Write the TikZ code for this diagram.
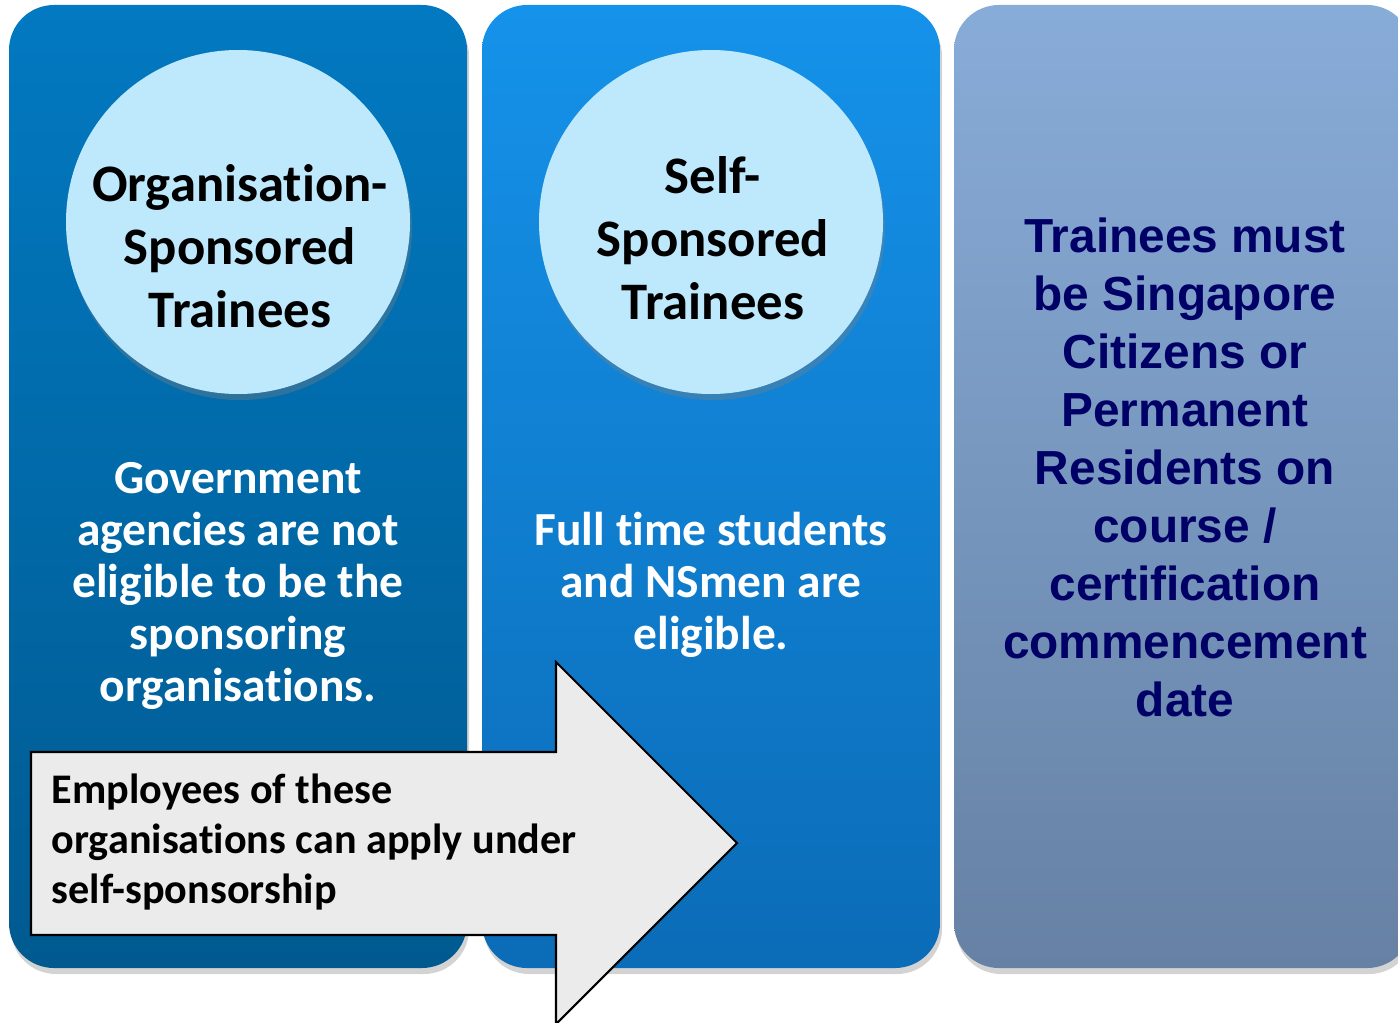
\documentclass[tikz,border=0pt]{standalone}
\usepackage{fontspec}
\setmainfont{Carlito}[Ligatures={NoCommon,NoContextual}, Contextuals=NoAlternate]
\newfontfamily\arialfont{Liberation Sans}
\usetikzlibrary{shadows}
\definecolor{OrgTop}{HTML}{0279C1}
\definecolor{OrgBot}{HTML}{005A90}
\definecolor{SelfTop}{HTML}{1592EA}
\definecolor{SelfBot}{HTML}{0B6CB7}
\definecolor{RuleTop}{HTML}{88ACD8}
\definecolor{RuleBot}{HTML}{6681A4}
\definecolor{Bubble}{HTML}{BEE9FC}
\definecolor{Navy}{HTML}{000066}
\definecolor{Note}{HTML}{EBEBEB}

\tikzset{
  panel/.style={rounded corners=0.45cm, minimum width=4.58cm, minimum height=9.63cm,
    inner sep=0pt, drop shadow={shadow xshift=0.2mm, shadow yshift=-0.6mm, opacity=0.35}},
  bubble/.style={circle, fill=Bubble, minimum size=3.44cm, inner sep=0pt,
    drop shadow={shadow xshift=0.2mm, shadow yshift=-0.6mm, opacity=0.35}},
  bubbletext/.style={align=center, inner sep=0pt, font=\bfseries\fontsize{15}{17.9}\selectfont},
  paneltext/.style={align=center, inner sep=0pt, text=white, font=\bfseries\fontsize{13.5}{14.8}\selectfont},
}

\begin{document}
\begin{tikzpicture}
    \useasboundingbox (0,0) rectangle (13.98,-10.22);
    \clip (0,0) rectangle (13.98,-10.22);

    \node at (2.38,-4.865) (Org) [panel, top color=OrgTop, bottom color=OrgBot] {};
    \node at (7.11,-4.865) (Self) [panel, top color=SelfTop, bottom color=SelfBot] {};
    \node at (11.83,-4.865) (Rule) [panel, top color=RuleTop, bottom color=RuleBot] {};

    \node at (2.38,-2.22) (OrgC) [bubble] {};
    \node at (7.11,-2.22) (SelfC) [bubble] {};

    \node at (2.40,-2.46) (OrgT) [bubbletext] {Organisation-\\Sponsored\\Trainees};
    \node at (7.13,-2.38) (SelfT) [bubbletext] {Self-\\Sponsored\\Trainees};

    \node at (2.38,-5.86) (OrgN) [paneltext] {Government\\agencies are not\\eligible to be the\\sponsoring\\organisations.};
    \node at (7.11,-5.85) (SelfN) [paneltext] {Full time students\\and NSmen are\\eligible.};

    \node at (11.85,-4.67) (RuleN) [align=center, inner sep=0pt, text=Navy,
      font=\arialfont\bfseries\fontsize{13.6}{16.5}\selectfont]
      {Trainees must\\be Singapore\\Citizens or\\Permanent\\Residents on\\course /\\certification\\commencement\\date};

    \draw[fill=Note, line width=0.6pt, line join=miter]
      (0.31,-7.52) -- (5.56,-7.52) -- (5.56,-6.62) -- (7.37,-8.43)
      -- (5.56,-10.24) -- (5.56,-9.35) -- (0.31,-9.35) -- cycle;
    \node at (0.51,-7.73) (Move) [anchor=north west, align=left, inner sep=0pt,
      font=\bfseries\fontsize{12}{14.2}\selectfont]
      {Employees of these\\organisations can apply under\\self-sponsorship};
\end{tikzpicture}
\end{document}
